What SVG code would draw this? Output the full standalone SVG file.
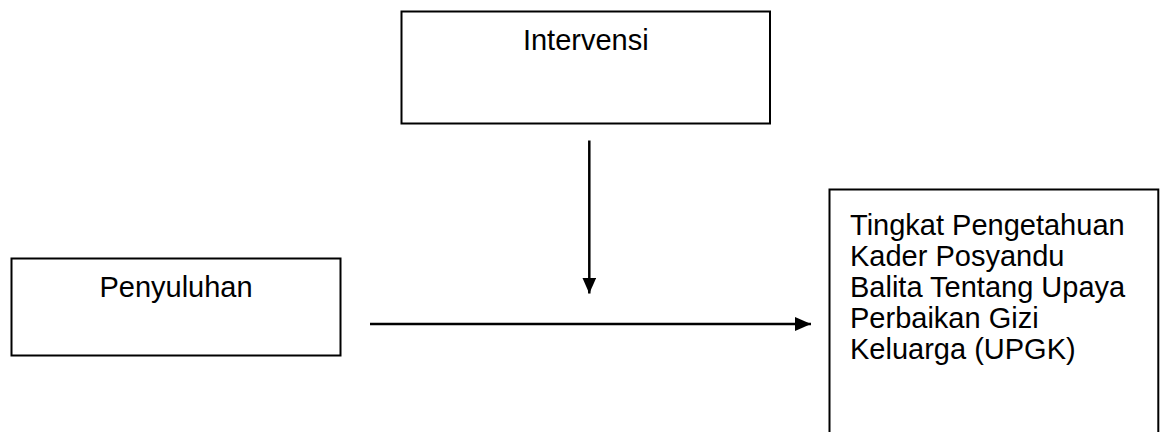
<svg xmlns="http://www.w3.org/2000/svg" width="1166" height="432" viewBox="0 0 1166 432">
<style>
.box{fill:#fff;stroke:#000;stroke-width:2}
.t{font-family:"Liberation Sans",Arial,sans-serif;font-size:29px;fill:#000}
.c{text-anchor:middle}
.ln{stroke:#000;stroke-width:2.5;fill:none}
</style>
<defs>
<marker id="ah" markerUnits="userSpaceOnUse" markerWidth="17" markerHeight="14" refX="16" refY="7" orient="auto">
<path d="M0,0 L16,7 L0,14 Z" fill="#000"/>
</marker>
</defs>
<rect width="1166" height="432" fill="#fff"/>
<g id="intervensi">
<rect class="box" x="401.5" y="11.5" width="368.5" height="112"/>
<text class="t c" x="585.8" y="50">Intervensi</text>
</g>
<g id="penyuluhan">
<rect class="box" x="11.5" y="258.5" width="329" height="97"/>
<text class="t c" x="176" y="296.7">Penyuluhan</text>
</g>
<g id="tingkat">
<rect class="box" x="829.5" y="189.5" width="328.8" height="260"/>
<text class="t" x="850" y="235">Tingkat Pengetahuan</text>
<text class="t" x="850" y="266">Kader Posyandu</text>
<text class="t" x="850" y="297">Balita Tentang Upaya</text>
<text class="t" x="850" y="328">Perbaikan Gizi</text>
<text class="t" x="850" y="359">Keluarga (UPGK)</text>
</g>
<g id="connectors">
<line class="ln" x1="589.3" y1="140.5" x2="589.3" y2="293.5" marker-end="url(#ah)"/>
<line class="ln" x1="370" y1="324" x2="811" y2="324" marker-end="url(#ah)"/>
</g>
</svg>
